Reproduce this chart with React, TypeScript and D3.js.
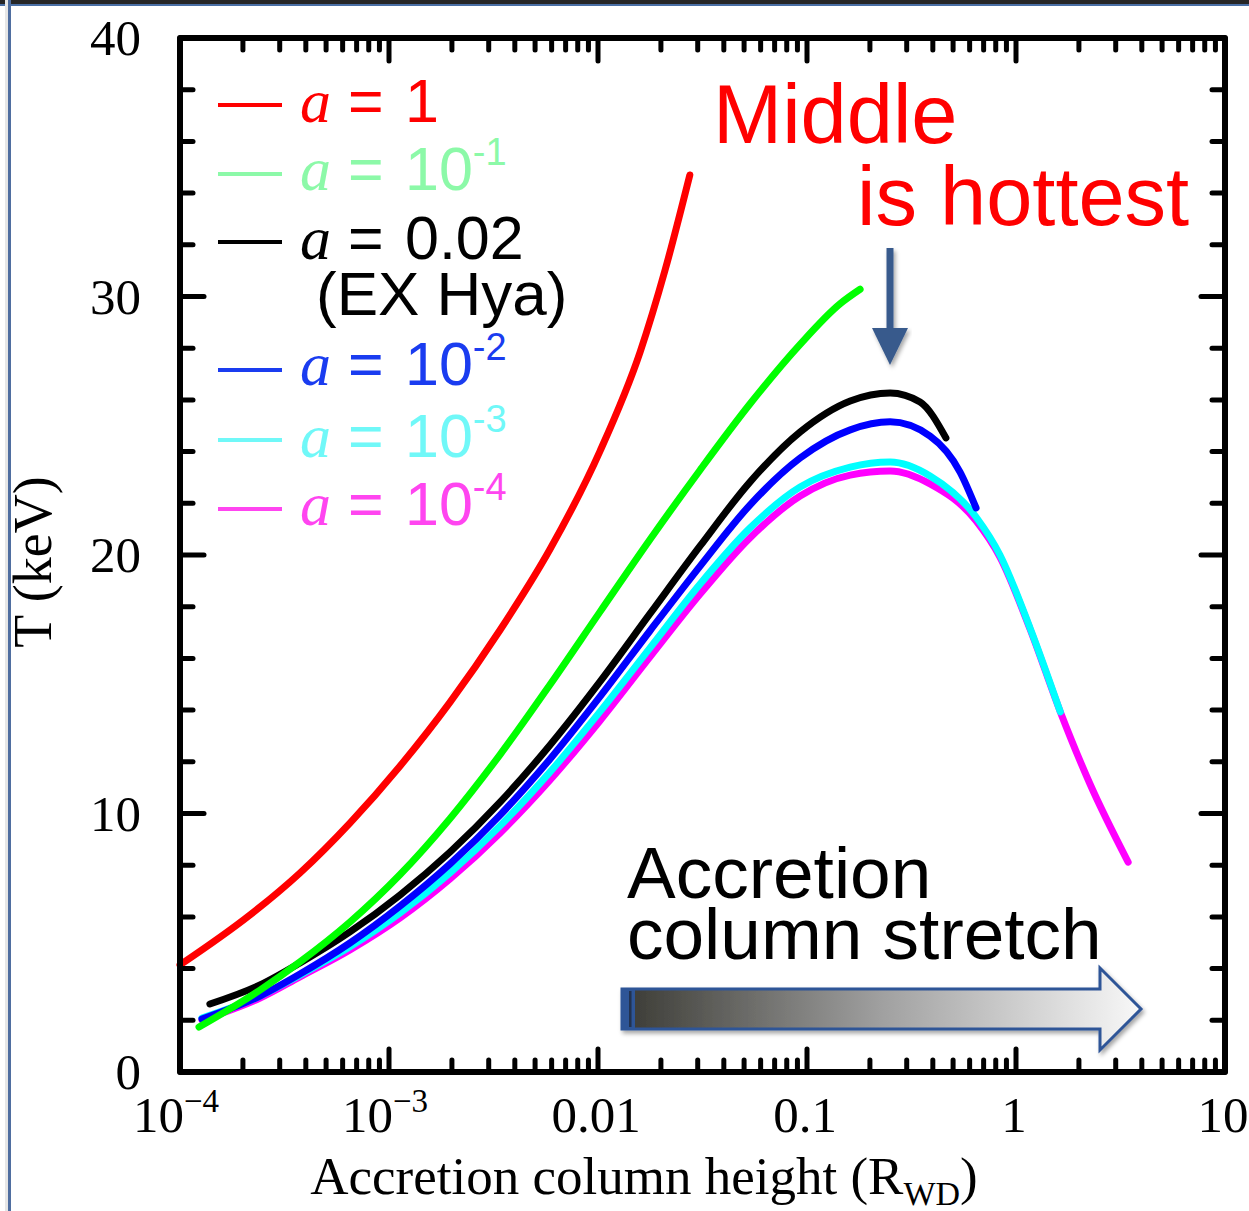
import React from "react";
import * as d3 from "d3";

// ---- data ----
const redH = [1e-4, 2.16e-4, 3.75e-4, 6.5e-4, 1.13e-3, 1.96e-3, 3.4e-3, 5.9e-3, 0.0102, 0.0159, 0.0209, 0.0275];
const redT = [4.14, 6.07, 7.7, 9.63, 11.84, 14.31, 17.1, 20.23, 24.0, 27.85, 31.0, 34.7];

const greenH = [1.233e-4, 2.415e-4, 3.75e-4, 6.5e-4, 1.13e-3, 1.96e-3, 3.4e-3, 5.9e-3, 0.0102, 0.0177, 0.0308, 0.0533, 0.0927, 0.144, 0.1795];
const greenT = [1.74, 3.17, 4.26, 5.8, 7.64, 9.81, 12.28, 14.99, 17.79, 20.59, 23.29, 25.84, 28.15, 29.72, 30.28];

const blackH = [1.39e-4, 2.415e-4, 3.75e-4, 6.5e-4, 1.13e-3, 1.96e-3, 3.4e-3, 5.9e-3, 0.0102, 0.0177, 0.0308, 0.0533, 0.0927, 0.161, 0.25, 0.3475, 0.462];
const blackT = [2.63, 3.37, 4.22, 5.42, 6.85, 8.51, 10.44, 12.65, 15.09, 17.72, 20.35, 22.82, 24.76, 25.96, 26.27, 25.92, 24.53];

const blueH = [1.274e-4, 2.415e-4, 3.75e-4, 6.5e-4, 1.13e-3, 1.96e-3, 3.4e-3, 5.9e-3, 0.0102, 0.0177, 0.0308, 0.0533, 0.0927, 0.161, 0.25, 0.388, 0.54, 0.644];
const blueT = [2.05, 2.94, 3.79, 4.99, 6.42, 8.05, 9.94, 12.11, 14.51, 17.06, 19.57, 21.93, 23.75, 24.84, 25.15, 24.6, 23.21, 21.82];

const cyanH = [1.274e-4, 2.415e-4, 3.75e-4, 6.5e-4, 1.13e-3, 1.96e-3, 3.4e-3, 5.9e-3, 0.0102, 0.0177, 0.0308, 0.0533, 0.0927, 0.161, 0.25, 0.388, 0.644, 0.838, 1.167, 1.63];
const cyanT = [2.09, 2.94, 3.75, 4.84, 6.15, 7.7, 9.52, 11.61, 13.93, 16.4, 18.88, 21.04, 22.63, 23.4, 23.6, 23.06, 21.47, 20.0, 17.18, 13.93];

const magentaH = [1.274e-4, 2.415e-4, 3.75e-4, 6.5e-4, 1.13e-3, 1.96e-3, 3.4e-3, 5.9e-3, 0.0102, 0.0177, 0.0308, 0.0533, 0.0927, 0.161, 0.25, 0.388, 0.644, 0.838, 1.167, 1.63, 2.26, 3.44];
const magentaT = [2.01, 2.86, 3.68, 4.72, 5.96, 7.47, 9.25, 11.3, 13.58, 16.05, 18.49, 20.66, 22.28, 23.09, 23.25, 22.75, 21.32, 19.92, 17.14, 13.93, 11.14, 8.12];

const xMajorTicks = [1e-4, 1e-3, 1e-2, 1e-1, 1, 10];
const xTickBase = ["10", "10", "0.01", "0.1", "1", "10"];
const xTickSup = ["\u22124", "\u22123", "", "", "", ""];
const yMajorTicks = [0, 10, 20, 30, 40];

const legendMain = ["1", "10", "0.02", "10", "10", "10"];
const legendSup = ["", "-1", "", "-2", "-3", "-4"];
const legendColors = ["#ff0000", "#8cf9a8", "#000000", "#1a3cf0", "#70f8f8", "#ff45f0"];

const W = 1249;
const H = 1211;
const L = 180, R = 1225, T = 38, B = 1072;

export default function App() {
  const x = d3.scaleLog().domain([1e-4, 10]).range([L, R]);
  const y = d3.scaleLinear().domain([0, 40]).range([B, T]);

  const line = d3
    .line<[number, number]>()
    .x((d) => x(d[0]))
    .y((d) => y(d[1]))
    .curve(d3.curveMonotoneX);

  const mk = (hs: number[], ts: number[]) => line(hs.map((h, i) => [h, ts[i]] as [number, number])) || "";

  const series = [
    { d: mk(magentaH, magentaT), c: "#ff00ff" },
    { d: mk(cyanH, cyanT), c: "#00ffff" },
    { d: mk(blueH, blueT), c: "#0000ff" },
    { d: mk(blackH, blackT), c: "#000000" },
    { d: mk(greenH, greenT), c: "#00ff00" },
    { d: mk(redH, redT), c: "#ff0000" },
  ];

  const xMinor: number[] = [];
  for (let e = -4; e < 1; e++) {
    for (let k = 2; k <= 9; k++) xMinor.push(k * Math.pow(10, e));
  }
  const yMinor: number[] = [];
  for (let v = 2; v < 40; v += 2) if (v % 10 !== 0) yMinor.push(v);

  const tickStyle = { stroke: "#000", strokeWidth: 5, strokeLinecap: "round" as const };

  const legendY = [105, 174, 242, 370, 440, 509];
  const legendBase = [122, 190, 259, 385, 457, 525];

  return (
    <svg
      width={W}
      height={H}
      style={{ position: "absolute", left: 0, top: 0, background: "#fff" }}
    >
      <defs>
        <linearGradient id="arrowGrad" x1="0" x2="1" y1="0" y2="0">
          <stop offset="0" stopColor="#3a3a34" />
          <stop offset="0.5" stopColor="#a0a0a0" />
          <stop offset="1" stopColor="#f8f8f8" />
        </linearGradient>
        <filter id="shadow" x="-10%" y="-30%" width="120%" height="170%">
          <feDropShadow dx="2" dy="3" stdDeviation="2" floodColor="#000" floodOpacity="0.35" />
        </filter>
      </defs>
      <rect x={0} y={0} width={W} height={H} fill="#fff" />
      {/* slide frame */}
      <rect x={0} y={0} width={W} height={4} fill="#262626" />
      <rect x={0} y={4} width={W} height={2} fill="#4a6fa5" />
      <rect x={5} y={0} width={3} height={H} fill="#e6e6e6" />
      <rect x={8} y={0} width={3} height={H} fill="#4f6ea0" />

      {/* curves */}
      <g>
        {series.map((s, i) => (
          <path key={i} d={s.d} fill="none" stroke={s.c} strokeWidth={7} strokeLinecap="round" strokeLinejoin="round" />
        ))}
      </g>

      {/* ticks */}
      {xMinor.map((v, i) => (
        <g key={"xm" + i}>
          <line x1={x(v)} x2={x(v)} y1={B} y2={B - 12} {...tickStyle} />
          <line x1={x(v)} x2={x(v)} y1={T} y2={T + 12} {...tickStyle} />
        </g>
      ))}
      {xMajorTicks.map((v, i) => (
        <g key={"xM" + i}>
          <line x1={x(v)} x2={x(v)} y1={B} y2={B - 23} {...tickStyle} />
          <line x1={x(v)} x2={x(v)} y1={T} y2={T + 23} {...tickStyle} />
        </g>
      ))}
      {yMinor.map((v, i) => (
        <g key={"ym" + i}>
          <line x1={L} x2={L + 13} y1={y(v)} y2={y(v)} {...tickStyle} />
          <line x1={R} x2={R - 13} y1={y(v)} y2={y(v)} {...tickStyle} />
        </g>
      ))}
      {yMajorTicks.map((v, i) => (
        <g key={"yM" + i}>
          <line x1={L} x2={L + 24} y1={y(v)} y2={y(v)} {...tickStyle} />
          <line x1={R} x2={R - 24} y1={y(v)} y2={y(v)} {...tickStyle} />
        </g>
      ))}

      {/* frame */}
      <rect x={L} y={T} width={R - L} height={B - T} fill="none" stroke="#000" strokeWidth={6} strokeLinejoin="round" />

      {/* tick labels */}
      <g fontFamily="'Liberation Serif', 'Times New Roman', serif" fontSize={51} fill="#000">
        {xMajorTicks.map((v, i) => (
          <text key={"xl" + i} x={x(v) + (xTickSup[i] ? -4 : -2)} y={1132} textAnchor="middle">
            {xTickBase[i]}
            {xTickSup[i] ? (
              <tspan fontSize={33} dy={-20}>
                {xTickSup[i]}
              </tspan>
            ) : null}
          </text>
        ))}
        {yMajorTicks.map((v, i) => (
          <text key={"yl" + i} x={141} y={y(v) + 17} textAnchor="end">
            {String(v)}
          </text>
        ))}
        <text x={644} y={1194} textAnchor="middle" fontSize={53}>
          Accretion column height (R
          <tspan fontSize={34} dy={11}>WD</tspan>
          <tspan dy={-11}>)</tspan>
        </text>
        <text transform={`translate(51,562) rotate(-90)`} textAnchor="middle" fontSize={54}>
          T (keV)
        </text>
      </g>

      {/* legend */}
      {legendMain.map((m, i) => (
        <g key={"lg" + i}>
          <line x1={218} x2={282} y1={legendY[i]} y2={legendY[i]} stroke={legendColors[i]} strokeWidth={4} />
          <text x={300} y={legendBase[i]} fill={legendColors[i]} fontSize={62} fontFamily="'Liberation Serif', 'Times New Roman', serif" fontStyle="italic">
            a
          </text>
          <text x={348} y={legendBase[i]} fill={legendColors[i]} fontSize={61} fontFamily="'Liberation Sans', Arial, sans-serif">
            =
          </text>
          <text x={405} y={legendBase[i]} fill={legendColors[i]} fontSize={61} fontFamily="'Liberation Sans', Arial, sans-serif">
            {m}
            {legendSup[i] ? (
              <tspan fontSize={38} dy={-25}>
                {legendSup[i]}
              </tspan>
            ) : null}
          </text>
        </g>
      ))}
      <text x={316} y={315} fill="#000" fontSize={62} fontFamily="'Liberation Sans', Arial, sans-serif">
        (EX Hya)
      </text>

      {/* annotations */}
      <g fontFamily="'Liberation Sans', Arial, sans-serif" fill="#ff0000" fontSize={83}>
        <text x={713} y={143}>Middle</text>
        <text x={857} y={225}>is hottest</text>
      </g>
      <g filter="url(#shadow)">
        <line x1={890} y1={248} x2={890} y2={335} stroke="#385a8c" strokeWidth={7} />
        <path d="M872,328 L908,328 L890,365 Z" fill="#385a8c" />
      </g>

      <g fontFamily="'Liberation Sans', Arial, sans-serif" fill="#000" fontSize={73}>
        <text x={627} y={898}>Accretion</text>
        <text x={627} y={959}>column stretch</text>
      </g>

      <g filter="url(#shadow)">
        <path
          d="M622,989 L1100,989 L1100,968 L1141,1009 L1100,1050 L1100,1029 L622,1029 Z"
          fill="url(#arrowGrad)"
          stroke="#2f5597"
          strokeWidth={3}
          strokeLinejoin="miter"
        />
        <rect x={622} y={989} width={13} height={40} fill="#2f5597" />
        <rect x={629} y={991} width={2.5} height={36} fill="#20324f" />
      </g>
    </svg>
  );
}
